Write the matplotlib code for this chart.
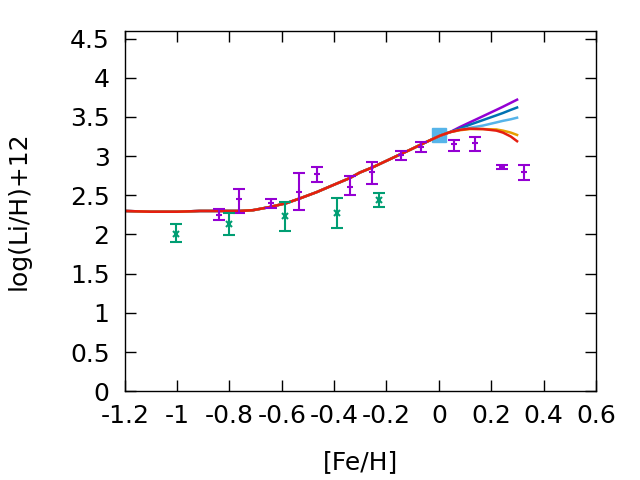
import matplotlib
matplotlib.use("Agg")
import matplotlib.pyplot as plt

# observed Li abundances (purple, '+')
obs_feh = [-0.841, -0.764, -0.642, -0.535, -0.467, -0.340, -0.257, -0.146, -0.069, 0.058, 0.138, 0.243, 0.326]
obs_li = [2.25, 2.45, 2.40, 2.54, 2.77, 2.61, 2.80, 3.01, 3.12, 3.15, 3.17, 2.86, 2.80]
obs_lo = [2.18, 2.28, 2.34, 2.31, 2.67, 2.50, 2.65, 2.95, 3.05, 3.07, 3.07, 2.83, 2.69]
obs_hi = [2.32, 2.58, 2.45, 2.79, 2.86, 2.74, 2.92, 3.07, 3.18, 3.21, 3.25, 2.89, 2.89]

# second sample (green, 'x')
obs2_feh = [-1.005, -0.801, -0.586, -0.391, -0.228]
obs2_li = [2.01, 2.13, 2.23, 2.27, 2.44]
obs2_lo = [1.90, 1.99, 2.05, 2.08, 2.35]
obs2_hi = [2.13, 2.27, 2.41, 2.47, 2.53]

# solar value
sun_feh = [0.0]
sun_li = [3.27]

# model tracks: shared part, then branches after [Fe/H] ~ 0.04
common_feh = [-1.2, -1.1, -1.0, -0.913, -0.82, -0.76, -0.71, -0.646, -0.582, -0.531,
              -0.467, -0.404, -0.340, -0.302, -0.251, -0.2, -0.149, -0.11, -0.073,
              -0.035, 0.004, 0.042]
common_li = [2.30, 2.29, 2.29, 2.30, 2.30, 2.30, 2.31, 2.35, 2.40, 2.46,
             2.54, 2.63, 2.72, 2.79, 2.86, 2.94, 3.02, 3.08, 3.14,
             3.20, 3.26, 3.305]

branch_feh = [0.042, 0.08, 0.118, 0.169, 0.22, 0.245, 0.275, 0.299]
branch_purple = [3.305, 3.37, 3.43, 3.51, 3.59, 3.63, 3.68, 3.72]
branch_dblue = [3.305, 3.35, 3.40, 3.46, 3.52, 3.55, 3.59, 3.62]
branch_lblue = [3.305, 3.335, 3.36, 3.39, 3.43, 3.45, 3.47, 3.49]
branch_orange = [3.305, 3.33, 3.345, 3.345, 3.34, 3.325, 3.30, 3.27]
branch_red = [3.305, 3.335, 3.35, 3.345, 3.325, 3.30, 3.25, 3.19]

track_colors = ["#9400d3", "#0072b2", "#56b4e9", "#e69f00", "#e51e10"]
branches = [branch_purple, branch_dblue, branch_lblue, branch_orange, branch_red]

plt.rcParams["font.family"] = ["DejaVu Sans"]
plt.rcParams["font.size"] = 18

fig = plt.figure(figsize=(6.4, 4.8), dpi=100)
ax = fig.add_axes([0.195, 0.185, 0.736, 0.751])

for col, br in zip(track_colors, branches):
    ax.plot(common_feh + branch_feh[1:], common_li + br[1:], color=col, lw=1.8, zorder=2)

ax.errorbar(obs_feh, obs_li,
            yerr=[[a - b for a, b in zip(obs_li, obs_lo)], [b - a for a, b in zip(obs_li, obs_hi)]],
            fmt="+", color="#9400d3", ms=5, mew=1.5, elinewidth=1.5, capsize=4, capthick=1.5, zorder=3)
ax.errorbar(obs2_feh, obs2_li,
            yerr=[[a - b for a, b in zip(obs2_li, obs2_lo)], [b - a for a, b in zip(obs2_li, obs2_hi)]],
            fmt="x", color="#009e73", ms=4, mew=1.5, elinewidth=1.5, capsize=4, capthick=1.5, zorder=3)
ax.plot(sun_feh, sun_li, "s", color="#56b4e9", ms=10, zorder=1)

ax.set_xlim(-1.2, 0.6)
ax.set_ylim(0, 4.6)
ax.set_xticks([-1.2, -1, -0.8, -0.6, -0.4, -0.2, 0, 0.2, 0.4, 0.6])
ax.set_xticklabels(["-1.2", "-1", "-0.8", "-0.6", "-0.4", "-0.2", "0", "0.2", "0.4", "0.6"])
ax.set_yticks([0, 0.5, 1, 1.5, 2, 2.5, 3, 3.5, 4, 4.5])
ax.set_yticklabels(["0", "0.5", "1", "1.5", "2", "2.5", "3", "3.5", "4", "4.5"])
ax.tick_params(direction="in", length=8, width=1, top=True, right=True, pad=9)
ax.tick_params(axis="y", pad=11)
for s in ax.spines.values():
    s.set_linewidth(1)

ax.set_xlabel("[Fe/H]", labelpad=16)
ax.set_ylabel("log(Li/H)+12", labelpad=28)

fig.savefig("out.png", dpi=100)
